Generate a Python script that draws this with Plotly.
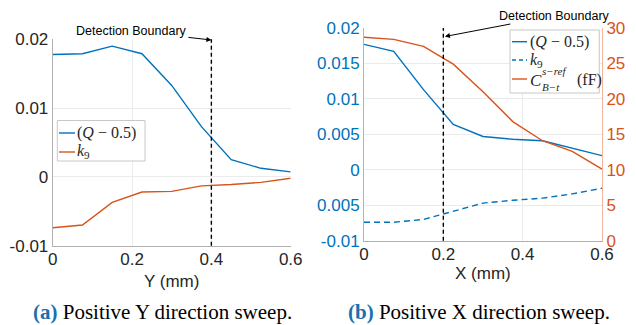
import plotly.graph_objects as go

# ---- data ----
sweep_pos = [0, 0.075, 0.15, 0.225, 0.3, 0.375, 0.45, 0.525, 0.6]
y_q = [0.0178, 0.0179, 0.0190, 0.0179, 0.0133, 0.0073, 0.0025, 0.00125, 0.00073]
y_k9 = [-0.0074, -0.0070, -0.0037, -0.0022, -0.0021, -0.0013, -0.0011, -0.0008, -0.0002]
x_q = [0.0177, 0.0167, 0.0113, 0.0064, 0.0047, 0.0043, 0.0041, 0.0030, 0.0020]
x_k9 = [-0.0074, -0.0074, -0.0070, -0.0058, -0.0047, -0.0043, -0.0040, -0.0034, -0.0026]
x_c = [28.7, 28.4, 27.4, 24.9, 21.0, 16.8, 14.1, 12.6, 10.1]
boundary_y = 0.4
boundary_x = 0.2
xticks = [0, 0.2, 0.4, 0.6]
xticklabels = ["0", "0.2", "0.4", "0.6"]
left_yticks = [-0.01, 0, 0.01, 0.02]
left_yticklabels = ["-0.01", "0", "0.01", "0.02"]
right_yticks = [-0.01, -0.005, 0, 0.005, 0.01, 0.015, 0.02]
right_yticklabels = ["-0.01", "0.005", "0", "0.005", "0.01", "0.015", "0.02"]
c_ticks = [0, 5, 10, 15, 20, 25, 30]

BLUE = "#0072BD"
ORANGE = "#D95319"
W, H = 636, 325
FONT = "Liberation Sans, Arial, sans-serif"
SERIF = "Liberation Serif, Times New Roman, serif"


def px(x):
    return x / W


def py(y):
    return 1 - y / H


fig = go.Figure()

# left panel
fig.add_trace(go.Scatter(x=sweep_pos, y=y_q, mode="lines", line=dict(color=BLUE, width=1.4),
                         name="(Q-0.5)", xaxis="x", yaxis="y"))
fig.add_trace(go.Scatter(x=sweep_pos, y=y_k9, mode="lines", line=dict(color=ORANGE, width=1.4),
                         name="k9", xaxis="x", yaxis="y"))

# right panel
fig.add_trace(go.Scatter(x=sweep_pos, y=x_q, mode="lines", line=dict(color=BLUE, width=1.4),
                         name="(Q-0.5)", xaxis="x2", yaxis="y2"))
fig.add_trace(go.Scatter(x=sweep_pos, y=x_k9, mode="lines", line=dict(color=BLUE, width=1.4, dash="6px,4px"),
                         name="k9", xaxis="x2", yaxis="y2"))
fig.add_trace(go.Scatter(x=sweep_pos, y=x_c, mode="lines", line=dict(color=ORANGE, width=1.4),
                         name="C", xaxis="x2", yaxis="y3"))

GRID = "#ebebeb"
TS = 17
tickfont = dict(family=FONT, size=TS, color="#262626")

fig.update_layout(
    template="none",
    width=W, height=H, margin=dict(l=0, r=0, t=0, b=0, pad=0), autosize=False,
    paper_bgcolor="white", plot_bgcolor="white", showlegend=False,
    xaxis=dict(domain=[px(52.7), px(290.7)], range=[0, 0.6], tickvals=xticks, ticktext=xticklabels,
               showgrid=True, gridcolor=GRID, zeroline=False, showline=True, linecolor="#b0b0b0",
               ticks="", tickfont=tickfont, anchor="y", automargin=False, ticklabelstandoff=-2),
    yaxis=dict(domain=[py(245.7), py(39.3)], range=[-0.01, 0.02], tickvals=left_yticks,
               ticktext=left_yticklabels, showgrid=True, gridcolor=GRID, zeroline=False,
               showline=True, linecolor="#b0b0b0", ticks="", tickfont=tickfont, anchor="x",
               automargin=False),
    xaxis2=dict(domain=[px(364), px(602)], range=[0, 0.6], tickvals=xticks, ticktext=xticklabels,
                showgrid=True, gridcolor=GRID, zeroline=False, showline=True, linecolor="#b0b0b0",
                ticks="", tickfont=tickfont, anchor="y2", automargin=False, ticklabelstandoff=-2),
    yaxis2=dict(domain=[py(240.7), py(28)], range=[-0.01, 0.02], tickvals=right_yticks,
                ticktext=right_yticklabels, showgrid=True, gridcolor=GRID, zeroline=False,
                showline=True, linecolor="#8fc0e6", ticks="",
                tickfont=dict(family=FONT, size=TS, color=BLUE), anchor="x2", automargin=False),
    yaxis3=dict(overlaying="y2", side="right", range=[0, 30], tickvals=c_ticks, showgrid=False,
                zeroline=False, showline=True, linecolor="#f0b59a", ticks="",
                tickfont=dict(family=FONT, size=TS, color=ORANGE), anchor="x2", automargin=False),
)

# detection boundary lines
fig.add_shape(type="line", xref="x", yref="y domain", x0=boundary_y, x1=boundary_y, y0=0, y1=1,
              line=dict(color="black", width=1.4, dash="4px,3px"))
fig.add_shape(type="line", xref="x2", yref="y2 domain", x0=boundary_x, x1=boundary_x, y0=0, y1=1,
              line=dict(color="black", width=1.4, dash="4px,3px"))

# annotations with arrows
fig.add_annotation(x=boundary_y, y=0.0199, xref="x", yref="y", text="Detection Boundary",
                   showarrow=True, ax=-80, ay=-9, arrowhead=2, arrowsize=1, arrowwidth=1,
                   arrowcolor="black", font=dict(family=FONT, size=12.5, color="black"))
fig.add_annotation(x=boundary_x + 0.004, y=0.0188, xref="x2", yref="y2", text="Detection Boundary",
                   showarrow=True, ax=110, ay=-21, arrowhead=2, arrowsize=1, arrowwidth=1,
                   arrowcolor="black", font=dict(family=FONT, size=12.5, color="black"))


def ann(x, y, text, size, color="#262626", family=FONT, anchor="left"):
    fig.add_annotation(x=px(x), y=py(y), xref="paper", yref="paper", text=text, showarrow=False,
                       font=dict(family=family, size=size, color=color), xanchor=anchor,
                       yanchor="middle", borderpad=0)


def seg(x0, x1, y, color, dash="solid"):
    fig.add_shape(type="line", xref="paper", yref="paper", x0=px(x0), x1=px(x1), y0=py(y), y1=py(y),
                  line=dict(color=color, width=1.4, dash=dash))


def box(x0, x1, y0, y1):
    fig.add_shape(type="rect", xref="paper", yref="paper", x0=px(x0), x1=px(x1), y0=py(y1), y1=py(y0),
                  line=dict(color="#c8c8c8", width=1), fillcolor="white", layer="above")


# axis titles
ann(171.7, 281.7, "Y (mm)", 17, anchor="center")
ann(483, 273, "X (mm)", 17, anchor="center")

# left legend
box(57.3, 145, 120.5, 161)
seg(59, 75, 133, BLUE)
seg(59, 75, 152, ORANGE)
ann(75.5, 133, "(<i>Q</i> − 0.5)", 16, family=SERIF)
ann(75.5, 152, "<i>k</i><sub>9</sub>", 16, family=SERIF)

# right legend
box(510, 599.3, 30, 93)
seg(512, 527, 41.7, BLUE)
seg(512, 527, 60, BLUE, dash="4px,3px")
seg(512, 527, 79, ORANGE)
ann(528.5, 41.7, "(<i>Q</i> − 0.5)", 16, family=SERIF)
ann(528.5, 60, "<i>k</i><sub>9</sub>", 16, family=SERIF)
ann(529, 80, "<i>C</i>", 17, family=SERIF)
ann(541, 71.5, "<i>s−ref</i>", 11, family=SERIF)
ann(541, 87.5, "<i>B−t</i>", 11, family=SERIF)
ann(576, 80, "(fF)", 16, family=SERIF)

# captions
ann(162, 311.5, "<b><span style='color:#1a6faf'>(a)</span></b> Positive Y direction sweep.", 21,
    color="black", family=SERIF, anchor="center")
ann(479, 311.5, "<b><span style='color:#1a6faf'>(b)</span></b> Positive X direction sweep.", 21,
    color="black", family=SERIF, anchor="center")

fig.write_html("out.html", post_script="document.body.style.margin='0';")
